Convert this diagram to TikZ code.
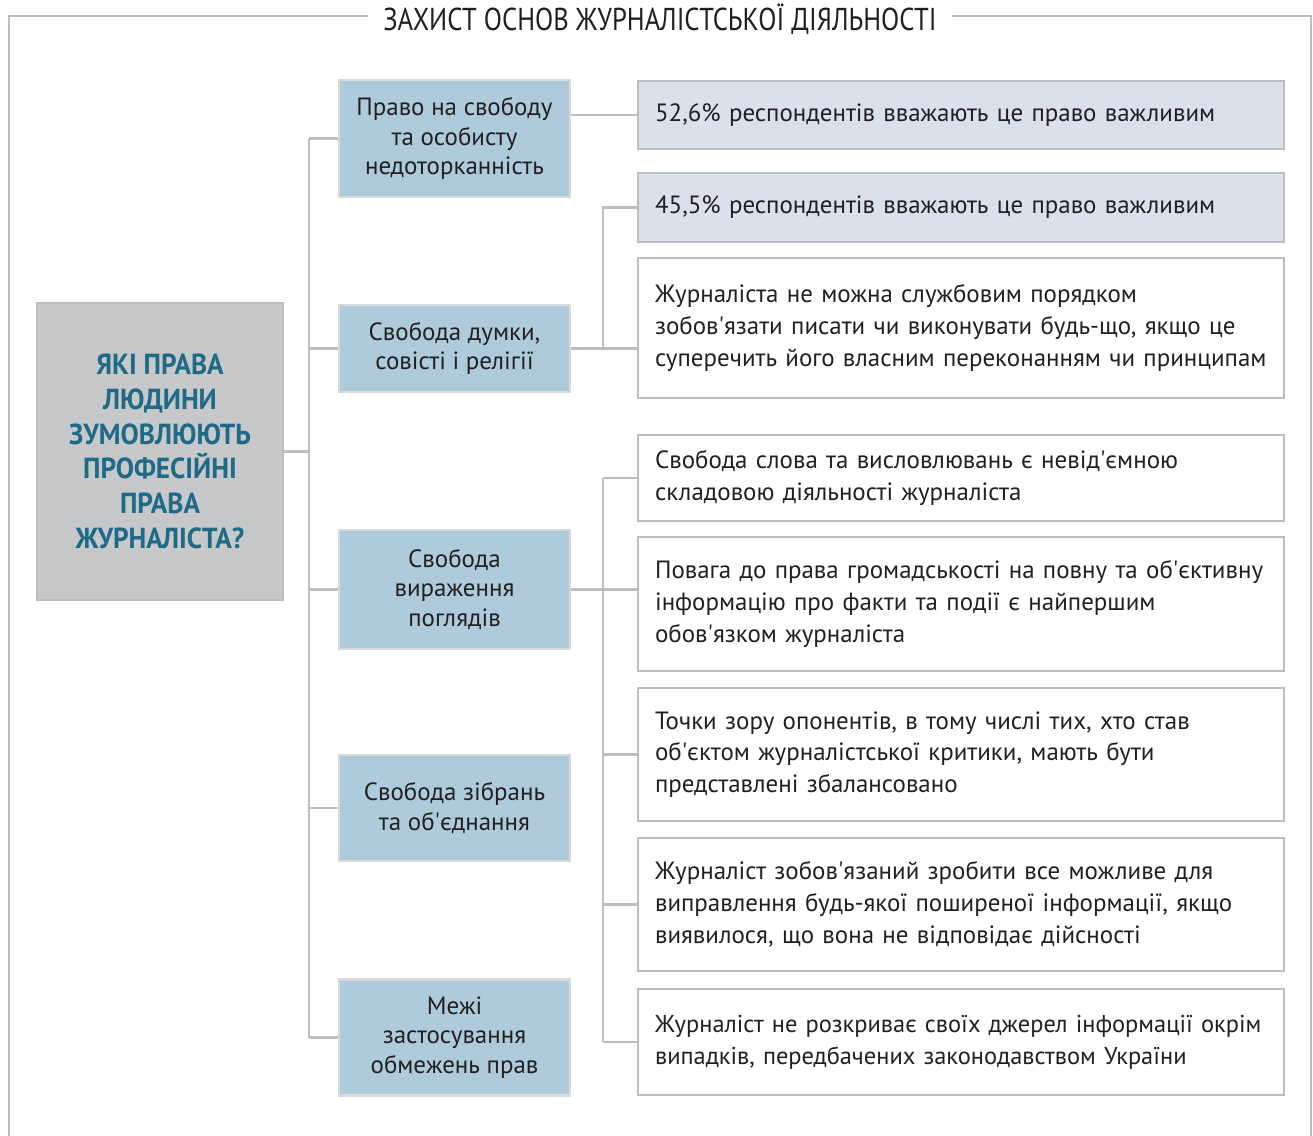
\documentclass[tikz,border=0pt]{standalone}
\usepackage{fontspec}
\setmainfont{PT Sans}
\newfontfamily\narrowsans[FakeStretch=0.84]{PT Sans}
\newfontfamily\asksans[FakeStretch=0.94, BoldFont={PT Sans Bold}]{PT Sans}
\newcommand\apos{\textquotesingle}

\begin{document}
\begin{tikzpicture}[x=0.02cm, y=-0.02cm,
    link/.style={draw=linegray, line width=1.2pt},
    midbox/.style={draw=paleedge, line width=1.4pt, fill=midblue, minimum width=4.62cm,
      align=center, text=ink, font=\fontsize{14.2}{16.6}\selectfont},
    factbox/.style={draw=linegray, line width=1.4pt, fill=white, text width=12.24cm,
      inner xsep=0.34cm, align=left, text=ink, font=\fontsize{14.2}{18.1}\selectfont},
    statbox/.style={factbox, fill=statblue}]
    % colours
    \definecolor{linegray}{RGB}{188,190,192}
    \definecolor{paleedge}{RGB}{216,218,220}
    \definecolor{midblue}{RGB}{174,203,220}
    \definecolor{statblue}{RGB}{218,225,236}
    \definecolor{askgray}{RGB}{199,200,202}
    \definecolor{askteal}{RGB}{30,106,135}
    \definecolor{ink}{RGB}{35,31,32}
    \useasboundingbox (0,0) rectangle (1313,1136);
    % frame with title
    \node[text=ink, font=\narrowsans\fontsize{18}{20}\selectfont, inner xsep=0.3cm] (title) at (660,19) {ЗАХИСТ ОСНОВ ЖУРНАЛІСТСЬКОЇ ДІЯЛЬНОСТІ};
    \coordinate (topleft) at (9,16);
    \coordinate (topright) at (1311,16);
    \draw[link, line width=1.1pt] (title.west |- topleft) -- (topleft) -- (9,1140);
    \draw[link, line width=1.1pt] (title.east |- topright) -- (topright) -- (1311,1140);
    % question
    \node[draw=linegray, line width=1.4pt, fill=askgray, minimum width=4.92cm, minimum height=5.94cm,
      align=center, text=askteal, font=\asksans\bfseries\fontsize{16.5}{19.8}\selectfont] (ask) at (160,451.5)
      {ЯКІ ПРАВА\\ЛЮДИНИ\\ЗУМОВЛЮЮТЬ\\ПРОФЕСІЙНІ\\ПРАВА\\ЖУРНАЛІСТА?};
    % rights
    \node[midbox, minimum height=2.34cm] (b1) at (454.5,138.5) {Право на свободу\\та особисту\\недоторканність};
    \node[midbox, minimum height=1.74cm] (b2) at (454.5,348.5) {Свобода думки,\\совісті і релігії};
    \node[midbox, minimum height=2.38cm] (b3) at (454.5,589.5) {Свобода\\вираження\\поглядів};
    \node[midbox, minimum height=2.12cm] (b4) at (454.5,808) {Свобода зібрань\\та об\apos єднання};
    \node[midbox, minimum height=2.32cm] (b5) at (454.5,1037.5) {Межі\\застосування\\обмежень прав};
    % statements
    \node[statbox, minimum height=1.36cm] (r1) at (961,115) {52,6\% респондентів вважають це право важливим};
    \node[statbox, minimum height=1.38cm] (r2) at (961,207.5) {45,5\% респондентів вважають це право важливим};
    \node[factbox, minimum height=2.8cm] (r3) at (961,328) {Журналіста не можна службовим порядком\\зобов\apos язати писати чи виконувати будь-що, якщо це\\суперечить його власним переконанням чи принципам};
    \node[factbox, minimum height=1.72cm] (r4) at (961,478) {Свобода слова та висловлювань є невід\apos ємною\\складовою діяльності журналіста};
    \node[factbox, minimum height=2.68cm] (r5) at (961,604) {Повага до права громадськості на повну та об\apos єктивну\\інформацію про факти та події є найпершим\\обов\apos язком журналіста};
    \node[factbox, minimum height=2.66cm] (r6) at (961,754.5) {Точки зору опонентів, в тому числі тих, хто став\\об\apos єктом журналістської критики, мають бути\\представлені збалансовано};
    \node[factbox, minimum height=2.66cm] (r7) at (961,904.5) {Журналіст зобов\apos язаний зробити все можливе для\\виправлення будь-якої поширеної інформації, якщо\\виявилося, що вона не відповідає дійсності};
    \node[factbox, minimum height=2.12cm, font=\fontsize{13.9}{18.1}\selectfont] (r8) at (961,1042) {Журналіст не розкриває своїх джерел інформації окрім\\випадків, передбачених законодавством України};
    % trunk
    \coordinate (trunk) at (309,0);
    \draw[link] (ask.east) -- (ask.east -| trunk);
    \draw[link] (b1.west -| trunk) -- (b5.west -| trunk);
    \foreach \b in {b1,b2,b3,b4,b5}
      \draw[link] (\b.west -| trunk) -- (\b.west);
    % branches
    \coordinate (fork) at (603,0);
    \draw[link] (b1.east |- r1.west) -- (r1.west);
    \draw[link] (b2.east) -- (b2.east -| r3.west);
    \draw[link] (r2.west) -- (r2.west -| fork) -- (b2.east -| fork);
    \draw[link] (b3.east) -- (b3.east -| r5.west);
    \draw[link] (r4.west -| fork) -- (r8.west -| fork);
    \foreach \r in {r4,r6,r7,r8}
      \draw[link] (\r.west -| fork) -- (\r.west);
\end{tikzpicture}
\end{document}
